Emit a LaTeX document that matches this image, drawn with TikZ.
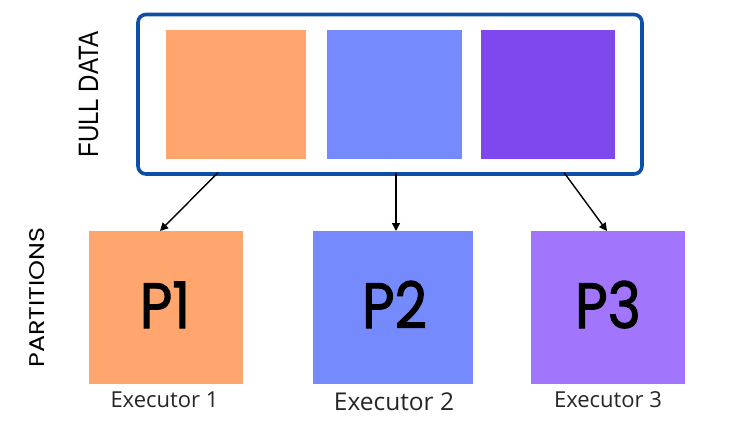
\documentclass[tikz,border=0pt]{standalone}
\usepackage{fontspec}
\usepackage{graphicx}
\setmainfont{Open Sans}
\newfontfamily\popfont{Poppins}
\newfontfamily\popbold{Poppins}[FakeBold=1.6]
\newfontfamily\arialfont{Liberation Sans}
\usetikzlibrary{arrows.meta,calc}
\definecolor{borderblue}{HTML}{0D4EA6}
\definecolor{orangefill}{HTML}{FFA66F}
\definecolor{bluefill}{HTML}{758BFD}
\definecolor{darkpurple}{HTML}{7F47EE}
\definecolor{lightpurple}{HTML}{A175FC}
\tikzset{
  block/.style={inner sep=0pt, outer sep=0pt, draw=none},
  plabel/.style={inner sep=0pt, anchor=base, font=\popbold\fontsize{64}{64}\selectfont},
  exlabel/.style={inner sep=0pt, anchor=base, text=black!85},
  sidelabel/.style={inner sep=0pt, anchor=base, rotate=90},
  conn/.style={line width=1.4pt, -{Triangle[length=8pt,width=8pt]}}
}
\begin{document}
\begin{tikzpicture}[x=1pt,y=-1pt]
\useasboundingbox (0,0) rectangle (734,428);
% outer container
\node[inner sep=0pt, outer sep=0pt, draw=borderblue, line width=3.6pt, rounded corners=8pt,
      minimum width=504pt, minimum height=159.5pt] (full) at (390,94.25) {};
% inner squares
\node[block, fill=orangefill, minimum width=140pt, minimum height=129pt] (d1) at (236,94.5) {};
\node[block, fill=bluefill, minimum width=135pt, minimum height=129pt] (d2) at (394.5,94.5) {};
\node[block, fill=darkpurple, minimum width=134pt, minimum height=129pt] (d3) at (548,94.5) {};
% partitions
\node[block, fill=orangefill, minimum width=154pt, minimum height=153pt] (p1) at (166,307.5) {};
\node[block, fill=bluefill, minimum width=160pt, minimum height=153pt] (p2) at (393,307.5) {};
\node[block, fill=lightpurple, minimum width=154pt, minimum height=153pt] (p3) at (608,307.5) {};
% P labels
\node[plabel] (t1) at (165,328) {\scalebox{0.88}[1]{P1}};
\node[plabel] (t2) at (394.5,328) {\scalebox{0.88}[1]{P2}};
\node[plabel] (t3) at (608,328) {\scalebox{0.88}[1]{P3}};
% executor labels
\node[exlabel, font=\fontsize{22}{22}\selectfont] (e1) at (164.5,407.7) {Executor 1};
\node[exlabel, font=\fontsize{24.5}{24.5}\selectfont] (e2) at (394,410) {Executor 2};
\node[exlabel, font=\fontsize{22}{22}\selectfont] (e3) at (608,407.3) {Executor 3};
% side labels
\node[sidelabel] (fd) at (98,94.5) {\resizebox{126pt}{19.3pt}{\arialfont FULL DATA}};
\node[sidelabel] (pt) at (45,297.5) {\resizebox{140pt}{15pt}{\popfont PARTITIONS}};
% connectors
\coordinate (s1) at ($(full.south west)+(80,-1.5)$);
\coordinate (s2) at ($(full.south west)+(258,-1.5)$);
\coordinate (s3) at ($(full.south west)+(426,-1.5)$);
\draw[conn] (s1) -- ($(p1.north)+(-6,0)$);
\draw[conn] (s2) -- ($(p2.north)+(3,0)$);
\draw[conn] (s3) -- ($(p3.north)+(-1,0)$);
\end{tikzpicture}
\end{document}
